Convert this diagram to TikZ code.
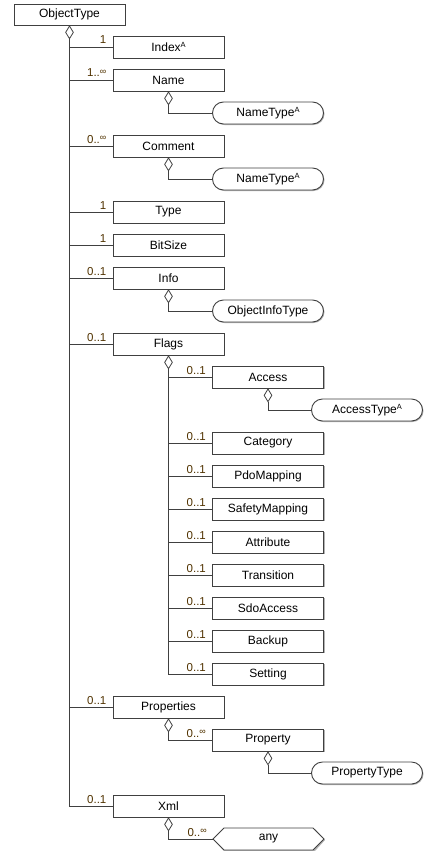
\documentclass[tikz,border=0pt]{standalone}
\usepackage{fontspec}
\setmainfont{Liberation Sans}
\usetikzlibrary{shapes.geometric,shadows}
\definecolor{lnc}{RGB}{64,64,64}
\definecolor{mult}{RGB}{80,50,0}
\newcommand{\supA}{\raisebox{0.55ex}{\fontsize{7.5}{7.5}\selectfont A}}
\newcommand{\infsym}{\raisebox{0.35ex}{\fontsize{9}{9}\selectfont ∞}}
\tikzset{
  base/.style={draw=lnc, line width=0.9pt, fill=white, inner sep=0pt, minimum height=22pt,
    font=\fontsize{12}{14}\selectfont,
    drop shadow={shadow xshift=1pt, shadow yshift=-1pt, fill=black!30, opacity=1}},
  elem/.style={base, rectangle, minimum width=111pt},
  ctype/.style={base, rectangle, rounded corners=11pt, minimum width=111pt},
  dia/.style={diamond, draw=lnc, line width=0.8pt, fill=white, inner sep=0pt,
    minimum width=8pt, minimum height=13pt, anchor=north},
  conn/.style={draw=lnc, line width=0.9pt},
  mlt/.style={anchor=base east, inner sep=0pt, xshift=-6pt, yshift=3pt,
    text=mult, font=\fontsize{11.5}{13}\selectfont},
}
\begin{document}
\begin{tikzpicture}[x=1pt,y=-1pt]
\useasboundingbox (0,0) rectangle (435,851);
% root
\node[elem, minimum height=21pt] (obj) at (69.5,14.5) {ObjectType};
\node[dia] (dobj) at (obj.south) {};
% level 1
\node[elem] (index) at (168.5,47) {Index\supA};
\node[elem] (name) at (168.5,80) {Name};
\node[ctype] (nt1) at (268,113) {NameType\supA};
\node[elem] (comment) at (168.5,146) {Comment};
\node[ctype] (nt2) at (268,179) {NameType\supA};
\node[elem] (type) at (168.5,212) {Type};
\node[elem] (bitsize) at (168.5,245) {BitSize};
\node[elem] (info) at (168.5,278) {Info};
\node[ctype] (oit) at (268,311) {ObjectInfoType};
\node[elem] (flags) at (168.5,344) {Flags};
\node[elem] (access) at (268,377) {Access};
\node[ctype] (at) at (367,410) {AccessType\supA};
\node[elem] (category) at (268,443) {Category};
\node[elem] (pdo) at (268,476) {PdoMapping};
\node[elem] (safety) at (268,509) {SafetyMapping};
\node[elem] (attr) at (268,542) {Attribute};
\node[elem] (trans) at (268,575) {Transition};
\node[elem] (sdo) at (268,608) {SdoAccess};
\node[elem] (backup) at (268,641) {Backup};
\node[elem] (setting) at (268,674) {Setting};
\node[elem] (props) at (168.5,707) {Properties};
\node[elem] (prop) at (268,740) {Property};
\node[ctype] (pt) at (367,773) {PropertyType};
\node[elem] (xml) at (168.5,806) {Xml};
% any (hexagon)
\fill[black!30] (214,840) -- (224,829) -- (315,829) -- (325,840) -- (315,851) -- (224,851) -- cycle;
\filldraw[draw=lnc, line width=0.9pt, fill=white] (213,839) coordinate (anyw) -- (224,828) -- (313,828) -- (324,839) -- (313,850) -- (224,850) -- cycle;
\node[font=\fontsize{12}{14}\selectfont, inner sep=0pt] (any) at (268.5,839) {any};
% diamonds
\node[dia] (dname) at (name.south) {};
\node[dia] (dcomment) at (comment.south) {};
\node[dia] (dinfo) at (info.south) {};
\node[dia] (dflags) at (flags.south) {};
\node[dia] (daccess) at (access.south) {};
\node[dia] (dprops) at (props.south) {};
\node[dia] (dprop) at (prop.south) {};
\node[dia] (dxml) at (xml.south) {};
% main trunk
\draw[conn] (dobj.south) |- (xml.west);
\foreach \n in {index,name,comment,type,bitsize,info,flags,props}
  \draw[conn] (dobj.south |- \n.west) -- (\n.west);
% sub connectors
\draw[conn] (dname.south) |- (nt1.west);
\draw[conn] (dcomment.south) |- (nt2.west);
\draw[conn] (dinfo.south) |- (oit.west);
\draw[conn] (dflags.south) |- (setting.west);
\foreach \n in {access,category,pdo,safety,attr,trans,sdo,backup}
  \draw[conn] (dflags.south |- \n.west) -- (\n.west);
\draw[conn] (daccess.south) |- (at.west);
\draw[conn] (dprops.south) |- (prop.west);
\draw[conn] (dprop.south) |- (pt.west);
\draw[conn] (dxml.south) |- (anyw);
% multiplicities
\node[mlt] (m1) at (index.west) {1};
\node[mlt] (m2) at (name.west) {1..\infsym};
\node[mlt] (m3) at (comment.west) {0..\infsym};
\node[mlt] (m4) at (type.west) {1};
\node[mlt] (m5) at (bitsize.west) {1};
\node[mlt] (m6) at (info.west) {0..1};
\node[mlt] (m7) at (flags.west) {0..1};
\foreach \n/\k in {access/a,category/b,pdo/c,safety/d,attr/e,trans/f,sdo/g,backup/h,setting/i}
  \node[mlt] (m\k) at (\n.west) {0..1};
\node[mlt] (m8) at (props.west) {0..1};
\node[mlt] (m9) at (prop.west) {0..\infsym};
\node[mlt] (m10) at (xml.west) {0..1};
\node[mlt] (m11) at (anyw) {0..\infsym};
\end{tikzpicture}
\end{document}
